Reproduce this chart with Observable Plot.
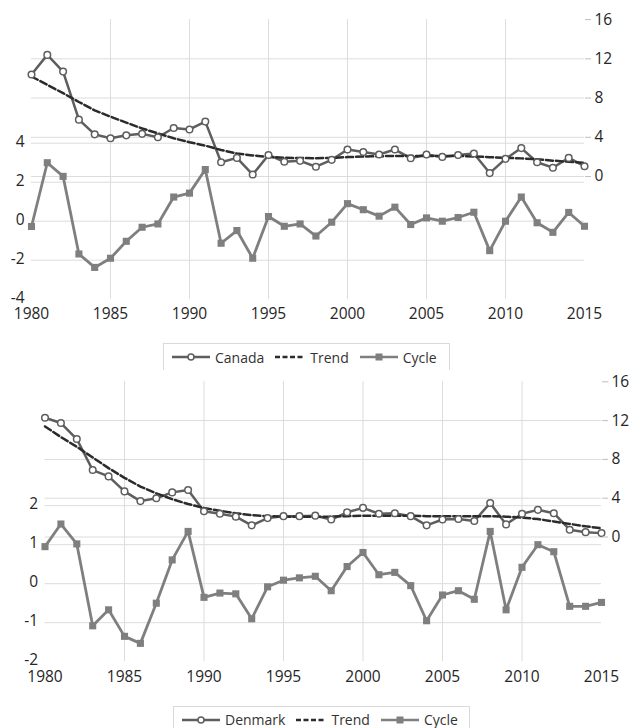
<!DOCTYPE html>
<html><head><meta charset="utf-8">
<script src="https://cdn.jsdelivr.net/npm/d3@7"></script>
<script src="https://cdn.jsdelivr.net/npm/@observablehq/plot@0.6"></script>
<style>
html,body{margin:0;padding:0;background:#fff;}
body{width:632px;height:728px;position:relative;overflow:hidden;font-family:"Open Sans",sans-serif;}
.panel{position:absolute;left:0;}
.legend{position:absolute;display:flex;align-items:center;box-sizing:border-box;border:1px solid #d9d9d9;border-bottom:none;padding-left:8px;font-size:14px;color:#333;white-space:nowrap;}
.item{display:flex;align-items:center;margin-right:11px;}
.item svg{margin-right:5px;display:block;}
</style></head><body>
<div id="top" class="panel" style="top:0"></div>
<div id="legTop" class="legend" style="left:163px;top:343px;width:287px;height:27px"></div>
<div id="bot" class="panel" style="top:362px"></div>
<div id="legBot" class="legend" style="left:173px;top:706px;width:297px;height:26px"></div>
<script>
const years = [1980,1981,1982,1983,1984,1985,1986,1987,1988,1989,1990,1991,1992,1993,1994,1995,1996,1997,1998,1999,2000,2001,2002,2003,2004,2005,2006,2007,2008,2009,2010,2011,2012,2013,2014,2015];

const canada = [10.4,12.4,10.7,5.8,4.3,3.9,4.2,4.35,4.0,4.95,4.8,5.6,1.45,1.9,0.2,2.2,1.5,1.6,1.0,1.7,2.75,2.5,2.25,2.75,1.87,2.25,2.0,2.2,2.35,0.35,1.8,2.9,1.45,0.9,1.9,1.05];
const canadaTrend = [10.2,9.35,8.5,7.6,6.75,6.1,5.5,4.9,4.4,3.9,3.5,3.15,2.7,2.35,2.15,2.0,1.92,1.88,1.87,1.9,1.98,2.03,2.07,2.1,2.1,2.1,2.1,2.1,2.05,1.97,1.9,1.85,1.75,1.62,1.5,1.4];
const canadaCycle = [-0.27,3.0,2.3,-1.68,-2.37,-1.9,-1.03,-0.31,-0.14,1.24,1.44,2.65,-1.13,-0.48,-1.9,0.24,-0.26,-0.14,-0.76,-0.05,0.9,0.59,0.26,0.72,-0.17,0.17,0.0,0.19,0.46,-1.51,0.0,1.24,-0.08,-0.57,0.45,-0.26];

const denmark = [12.3,11.75,10.1,6.9,6.25,4.7,3.7,4.0,4.6,4.85,2.65,2.4,2.1,1.2,1.95,2.15,2.15,2.2,1.8,2.55,3.0,2.4,2.45,2.15,1.2,1.8,1.85,1.65,3.5,1.3,2.4,2.8,2.45,0.75,0.5,0.4];
const denmarkTrend = [11.4,10.3,9.3,8.2,7.1,6.1,5.2,4.5,3.9,3.4,3.0,2.7,2.45,2.25,2.15,2.1,2.1,2.1,2.1,2.15,2.2,2.2,2.2,2.2,2.15,2.15,2.15,2.15,2.15,2.1,2.0,1.85,1.6,1.35,1.1,0.9];
const denmarkCycle = [0.95,1.53,1.02,-1.08,-0.67,-1.35,-1.53,-0.5,0.61,1.34,-0.35,-0.24,-0.26,-0.9,-0.08,0.09,0.15,0.19,-0.18,0.44,0.8,0.23,0.29,-0.05,-0.95,-0.29,-0.18,-0.4,1.34,-0.67,0.42,1.0,0.82,-0.58,-0.58,-0.48];

const xTicks = [1980,1985,1990,1995,2000,2005,2010,2015];
const xGrid = [1985,1990,1995,2000,2005,2010];
const rightTicks = [0,4,8,12,16];
const rightGrid = [0,4,8,12];
const canadaLeftTicks = [-4,-2,0,2,4];
const canadaLeftGrid = [-2,0,2,4];
const denmarkLeftTicks = [-2,-1,0,1,2];
const denmarkLeftGrid = [-1,0,1,2];

const C_LEVEL = "#5e5e5e", C_TREND = "#2b2b2b", C_CYCLE = "#7f7f7f", C_GRID = "#dcdcdc";

function panel(o) {
  const toLeft = v => o.a + o.b * v;
  const rows = years.map((year, i) => ({year, level: o.level[i], trend: o.trend[i], cycle: o.cycle[i]}));
  return Plot.plot({
    width: 632, height: 330,
    marginLeft: o.marginLeft, marginRight: o.marginRight, marginTop: o.marginTop, marginBottom: o.marginBottom,
    style: {fontFamily: "'Open Sans', sans-serif", fontSize: "15.5px", color: "#262626", background: "transparent", overflow: "visible"},
    x: {domain: [1980, 2015]},
    y: {domain: [o.leftMin, toLeft(16)]},
    marks: [
      Plot.gridX(xGrid, {stroke: C_GRID, strokeOpacity: 1}),
      Plot.gridY(o.leftGrid, {stroke: C_GRID, strokeOpacity: 1}),
      Plot.ruleY(rightGrid, {y: d => toLeft(d), stroke: C_GRID}),
      Plot.line(rows, {x: "year", y: "cycle", stroke: C_CYCLE, strokeWidth: 2.8}),
      Plot.dot(rows, {x: "year", y: "cycle", symbol: "square", r: 4, fill: C_CYCLE}),
      Plot.line(rows, {x: "year", y: d => toLeft(d.level), stroke: C_LEVEL, strokeWidth: 2.5}),
      Plot.line(rows, {x: "year", y: d => toLeft(d.trend), stroke: C_TREND, strokeWidth: 2.5, strokeDasharray: "7,3"}),
      Plot.dot(rows, {x: "year", y: d => toLeft(d.level), r: 3.3, fill: "white", stroke: C_LEVEL, strokeWidth: 1.5}),
      Plot.axisX(xTicks, {tickSize: 0, tickPadding: 9, tickFormat: d => String(d), label: null}),
      Plot.axisY(o.leftTicks, {anchor: "left", tickSize: 0, tickPadding: 7, dy: -1.5, tickFormat: d => String(d), label: null}),
      Plot.axisY(rightTicks, {anchor: "right", y: d => toLeft(d), tickSize: 6, tickPadding: 4, stroke: "#bfbfbf", tickFormat: d => String(d), label: null})
    ]
  });
}

document.getElementById("top").append(panel({
  level: canada, trend: canadaTrend, cycle: canadaCycle,
  leftTicks: canadaLeftTicks, leftGrid: canadaLeftGrid, leftMin: -4,
  a: 2.292, b: 0.503,
  marginLeft: 31, marginRight: 48, marginTop: 19.1, marginBottom: 31.3
}));
document.getElementById("bot").append(panel({
  level: denmark, trend: denmarkTrend, cycle: denmarkCycle,
  leftTicks: denmarkLeftTicks, leftGrid: denmarkLeftGrid, leftMin: -2,
  a: 1.197, b: 0.2487,
  marginLeft: 44.5, marginRight: 31, marginTop: 19.3, marginBottom: 30.8
}));

function symbol(kind) {
  if (kind === "level") return `<svg width="38" height="12"><line x1="0" y1="6" x2="38" y2="6" stroke="${C_LEVEL}" stroke-width="2.5"/><circle cx="19" cy="6" r="3" fill="white" stroke="${C_LEVEL}" stroke-width="1.5"/></svg>`;
  if (kind === "trend") return `<svg width="30" height="12"><line x1="0" y1="6" x2="30" y2="6" stroke="${C_TREND}" stroke-width="2.5" stroke-dasharray="5,2.5"/></svg>`;
  return `<svg width="38" height="12"><line x1="0" y1="6" x2="38" y2="6" stroke="${C_CYCLE}" stroke-width="2.5"/><rect x="15.5" y="2.5" width="7" height="7" fill="${C_CYCLE}"/></svg>`;
}
function legend(id, name) {
  const el = document.getElementById(id);
  const items = [{label: name, kind: "level"}, {label: "Trend", kind: "trend"}, {label: "Cycle", kind: "cycle"}];
  el.innerHTML = items.map(it => `<span class="item">${symbol(it.kind)}<span>${it.label}</span></span>`).join("");
}
legend("legTop", "Canada");
legend("legBot", "Denmark");
</script>
</body></html>
